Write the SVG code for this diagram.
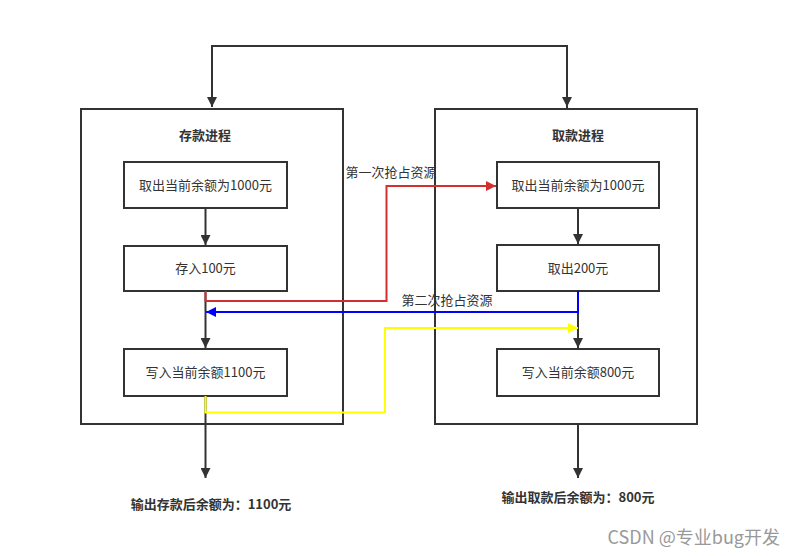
<svg xmlns="http://www.w3.org/2000/svg" width="797" height="556" viewBox="0 0 797 556">
<style>
.box{fill:#fff;stroke:#333;stroke-width:2}
.t{font-family:"Noto Sans CJK SC","Liberation Sans",sans-serif;font-size:13px;fill:#333;text-anchor:middle}
.b{font-weight:bold}
.ln{fill:none;stroke-width:2}
</style>
<defs>
<marker id="ak" viewBox="0 0 10 10" refX="10" refY="5" markerWidth="5" markerHeight="5" orient="auto" markerUnits="strokeWidth"><path d="M0,0L10,5L0,10z" fill="#333"/></marker>
<marker id="ar" viewBox="0 0 10 10" refX="10" refY="5" markerWidth="5" markerHeight="5" orient="auto" markerUnits="strokeWidth"><path d="M0,0L10,5L0,10z" fill="#d32f2f"/></marker>
<marker id="ab" viewBox="0 0 10 10" refX="10" refY="5" markerWidth="5" markerHeight="5" orient="auto" markerUnits="strokeWidth"><path d="M0,0L10,5L0,10z" fill="#0000ff"/></marker>
<marker id="ay" viewBox="0 0 10 10" refX="10" refY="5" markerWidth="5" markerHeight="5" orient="auto" markerUnits="strokeWidth"><path d="M0,0L10,5L0,10z" fill="#ffff00"/></marker>
</defs>
<rect width="797" height="556" fill="#fff"/>
<g id="deposit">
<rect class="box" x="81" y="109" width="262" height="315"/>
<text class="t b" x="205" y="140">存款进程</text>
</g>
<g id="withdraw">
<rect class="box" x="435" y="109" width="262" height="315"/>
<text class="t b" x="578" y="140">取款进程</text>
</g>
<g id="d1"><rect class="box" x="124" y="162" width="163" height="46"/><text class="t" x="205.5" y="190">取出当前余额为1000元</text></g>
<g id="d2"><rect class="box" x="124" y="246" width="163" height="45"/><text class="t" x="205.5" y="273">存入100元</text></g>
<g id="d3"><rect class="box" x="124" y="349" width="163" height="47"/><text class="t" x="205.5" y="377">写入当前余额1100元</text></g>
<g id="w1"><rect class="box" x="497" y="162" width="162" height="46"/><text class="t" x="578" y="190">取出当前余额为1000元</text></g>
<g id="w2"><rect class="box" x="497" y="245" width="162" height="46"/><text class="t" x="578" y="273">取出200元</text></g>
<g id="w3"><rect class="box" x="497" y="349" width="162" height="47"/><text class="t" x="578" y="377">写入当前余额800元</text></g>
<g id="out1"><text class="t b" x="211" y="509">输出存款后余额为：1100元</text></g>
<g id="out2"><text class="t b" x="578" y="502">输出取款后余额为：800元</text></g>
<g id="connectors">
<path class="ln" stroke="#333" d="M567,108 V46 H212 V107" marker-end="url(#ak)"/>
<path class="ln" stroke="#333" d="M567,46 V107" marker-end="url(#ak)"/>
<path class="ln" stroke="#333" d="M205.5,208 V245" marker-end="url(#ak)"/>
<path class="ln" stroke="#333" d="M205.5,291 V348" marker-end="url(#ak)"/>
<path class="ln" stroke="#333" d="M578,208 V244" marker-end="url(#ak)"/>
<path class="ln" stroke="#333" d="M578,291 V348" marker-end="url(#ak)"/>
<path class="ln" stroke="#333" d="M205.5,396 V478" marker-end="url(#ak)"/>
<path class="ln" stroke="#333" d="M578,424 V478" marker-end="url(#ak)"/>
<path class="ln" stroke="#d32f2f" d="M205.5,291 V301 H386.5 V186 H496" marker-end="url(#ar)"/>
<path class="ln" stroke="#0000ff" d="M578,291 V312 H206" marker-end="url(#ab)"/>
<path class="ln" stroke="#ffff00" d="M205.5,396 V412.5 H385 V328 H578" marker-end="url(#ay)"/>
<text class="t" x="391" y="177" fill="#333">第一次抢占资源</text>
<text class="t" x="447" y="305" fill="#333">第二次抢占资源</text>
</g>
<text x="780" y="544" font-family="Noto Sans CJK SC,Liberation Sans,sans-serif" font-size="18" fill="#999" text-anchor="end">CSDN @专业bug开发</text>
</svg>
